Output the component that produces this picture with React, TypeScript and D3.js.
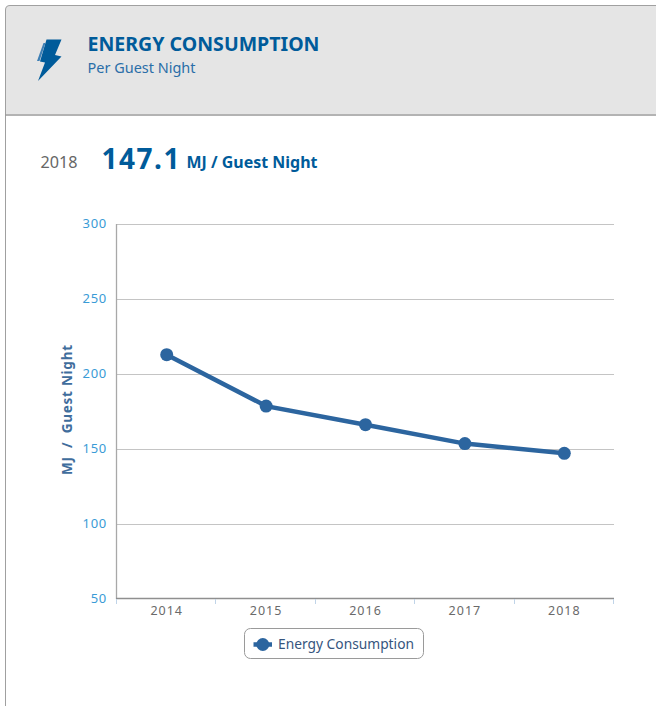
import React from "react";
import * as d3 from "d3";

const years = ["2014", "2015", "2016", "2017", "2018"];
const values = [212.9, 178.6, 166.2, 153.6, 147.1];
const yTicks = [50, 100, 150, 200, 250, 300];
const title = "ENERGY CONSUMPTION";
const subtitle = "Per Guest Night";
const seriesName = "Energy Consumption";
const axisTitle = "MJ / Guest Night";

const BLUE = "#2c659f";
const HEAD = "#005b9a";
const W = 656, H = 706;
const left = 117, right = 614, top = 224, bottom = 599;

export default function App() {
  const x = d3.scaleBand<string>().domain(years).range([left, right]);
  const y = d3.scaleLinear().domain([50, 300]).range([bottom, top]);
  const line = d3.line<number>()
    .x((_, i) => x(years[i])! + x.bandwidth() / 2)
    .y((d) => y(d));
  const sans = "'Noto Sans', sans-serif";
  return (
    <svg width={W} height={H} viewBox={`0 0 ${W} ${H}`}
      style={{ position: "absolute", left: 0, top: 0, display: "block", background: "#fff" }}>
      {/* card */}
      <rect x={6} y={6} width={W - 6} height={108} fill="#e5e5e5" />
      <rect x={6} y={114} width={W - 6} height={H - 114} fill="#fff" />
      <path d={`M5.5 ${H} V10 Q5.5 5.5 10 5.5 H${W}`} fill="none" stroke="#a0a0a0" strokeWidth={1} />
      <line x1={5} x2={W} y1={115} y2={115} stroke="#9a9a9a" strokeWidth={1.6} />
      {/* bolt icon */}
      <path d="M46.5 39.5 L61.5 39.5 L55 55 L61.5 56.5 L38 81 L45 62.5 L40 61.5 Z" fill={HEAD} />
      <path d="M43.5 43 L45.5 43 L39.5 61 L37 61 Z" fill="#3d7fb5" />
      <text x={87.5} y={51} fontFamily={sans} fontSize={19.5} fontWeight={700} fill={HEAD} textLength={232} lengthAdjust="spacingAndGlyphs">{title}</text>
      <text x={87.5} y={73} fontFamily={sans} fontSize={14} fill="#2a6ea8" textLength={108} lengthAdjust="spacingAndGlyphs">{subtitle}</text>
      <text x={40.5} y={168} fontFamily={sans} fontSize={16} fill="#666" textLength={37} lengthAdjust="spacingAndGlyphs">2018</text>
      <text x={101.5} y={169} fontFamily={sans} fontSize={28} fontWeight={700} fill={HEAD} textLength={78} lengthAdjust="spacing">{values[4].toFixed(1)}</text>
      <text x={186.5} y={168} fontFamily={sans} fontSize={16} fontWeight={700} fill={HEAD} textLength={131} lengthAdjust="spacingAndGlyphs">MJ / Guest Night</text>

      {/* grid */}
      {yTicks.filter((t) => t !== 50).map((t) => (
        <line key={t} x1={left} x2={right} y1={Math.floor(y(t)) + 0.5} y2={Math.floor(y(t)) + 0.5} stroke="#c4c4c4" strokeWidth={1} />
      ))}
      {yTicks.map((t) => (
        <text key={t} x={107} y={y(t) + 4} textAnchor="end" fontFamily={sans} fontSize={13} letterSpacing={0.7} fill="#3a9bd6">{t}</text>
      ))}
      {/* axes */}
      <line x1={116.5} x2={116.5} y1={top} y2={bottom} stroke="#a8a8a8" strokeWidth={1.3} />
      <line x1={left - 1} x2={right} y1={598.5} y2={598.5} stroke="#8f8f8f" strokeWidth={1.4} />
      {[...years.map((yr) => x(yr)!), right].map((px, i) => (
        <line key={i} x1={Math.round(px) - 0.5} x2={Math.round(px) - 0.5} y1={599} y2={604} stroke="#c0d4e8" strokeWidth={1} />
      ))}
      {years.map((yr) => (
        <text key={yr} x={x(yr)! + x.bandwidth() / 2} y={615} textAnchor="middle" fontFamily={sans} fontSize={12.5} letterSpacing={1} fill="#6a6a6a">{yr}</text>
      ))}
      <text transform="translate(72,410) rotate(-90)" textAnchor="middle" fontFamily={sans} fontSize={13.5} fontWeight={700} textLength={130} lengthAdjust="spacing" fill="#3f6d9c" style={{ whiteSpace: "pre" }}>{axisTitle.replace(" / ", "  /  ")}</text>

      {/* series */}
      <path d={line(values) ?? ""} fill="none" stroke={BLUE} strokeWidth={4.5} />
      {values.map((v, i) => (
        <circle key={i} cx={x(years[i])! + x.bandwidth() / 2} cy={y(v)} r={6.5} fill={BLUE} />
      ))}

      {/* legend */}
      <rect x={244.5} y={628.5} width={179} height={30} rx={6} fill="#fff" stroke="#9a9a9a" strokeWidth={1} />
      <line x1={253.5} x2={272} y1={644.5} y2={644.5} stroke={BLUE} strokeWidth={4.5} />
      <circle cx={262.8} cy={644.5} r={6.5} fill={BLUE} />
      <text x={278} y={649} fontFamily={sans} fontSize={13.5} fill="#36557e" textLength={136} lengthAdjust="spacingAndGlyphs">{seriesName}</text>
    </svg>
  );
}
